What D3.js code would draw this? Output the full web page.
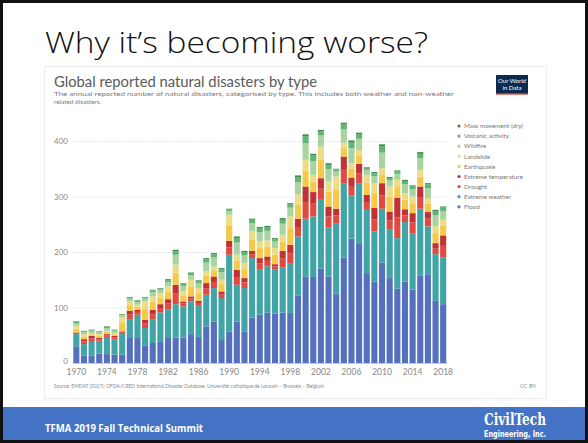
<!DOCTYPE html>
<html><head><meta charset="utf-8">
<script src="https://cdn.jsdelivr.net/npm/d3@7"></script>
<style>html,body{margin:0;padding:0;background:#fff;}svg{display:block;}</style>
</head><body>
<svg id="c" width="588" height="443"></svg>
<script>
const years = d3.range(1970, 2019);
const flood = [29,13,13,17,16,15,15,45,45,31,36,38,45,46,46,52,47,66,75,43,57,75,57,82,87,91,89,91,90,121,156,155,170,156,124,190,224,216,162,147,181,153,134,147,132,158,160,112,106];
const extremeWeather = [23,21,25,23,31,28,37,33,42,32,43,53,52,60,56,59,56,57,60,74,138,66,78,107,81,83,79,81,90,107,104,109,124,88,128,133,78,107,114,90,97,87,91,107,102,120,86,84,84];
const drought = [2,5,6,3,3,3,3,9,5,8,9,8,10,19,5,5,5,11,11,7,13,14,10,7,11,10,6,16,17,17,30,23,20,20,14,25,17,19,14,22,24,17,37,12,19,21,14,11,21];
const extremeTemperature = [1,4,5,2,2,3,2,7,4,7,8,7,8,16,4,4,4,10,10,5,12,13,8,6,10,8,4,14,16,15,28,21,19,18,12,24,15,17,13,21,22,16,36,11,17,19,12,9,19];
const earthquake = [7,5,3,4,4,3,15,10,5,20,14,12,14,22,11,18,14,13,11,13,28,16,16,21,18,17,17,17,30,26,29,19,34,27,35,15,16,15,22,26,16,27,19,17,18,18,15,18,17];
const landslide = [5,4,2,3,2,2,10,7,4,13,10,8,9,14,7,12,9,8,7,8,19,11,11,14,12,12,12,12,21,18,19,12,23,18,23,10,10,10,14,18,11,18,13,12,12,12,10,12,11];
const wildfire = [5,4,4,3,5,4,4,5,5,5,8,6,8,18,10,8,9,16,16,14,7,22,14,15,17,17,12,20,16,22,30,25,20,22,9,24,27,20,9,13,28,11,11,16,13,21,18,20,16];
const volcanic = [2,1,1,1,2,1,1,2,2,2,3,2,3,6,4,3,3,6,6,5,3,8,6,6,7,7,4,7,6,9,12,10,7,8,4,9,10,8,4,5,11,4,4,6,5,8,7,7,6];
const massMovement = [1,1,1,1,1,1,1,1,1,1,1,1,2,3,1,2,2,2,2,2,1,3,2,2,2,2,2,3,2,3,4,3,3,3,1,3,4,3,1,2,4,2,2,2,2,3,2,3,2];

const seriesNames = ["Flood","Extreme weather","Drought","Extreme temperature","Earthquake","Landslide","Wildfire","Volcanic activity","Mass movement (dry)"];
const seriesValues = [flood, extremeWeather, drought, extremeTemperature, earthquake, landslide, wildfire, volcanic, massMovement];
const seriesColors = ["#5571bd","#41a4a6","#e14a40","#c23234","#f5c94a","#ecdc86","#a8d49f","#5fb574","#3c8c4a"];
const yTicks = [0,100,200,300,400];
const xTickYears = [1970,1974,1978,1982,1986,1990,1994,1998,2002,2006,2010,2014,2018];

const svg = d3.select("#c");

svg.append("rect").attr("x",0).attr("y",0).attr("width",588).attr("height",443).attr("fill","#fff");
// title
svg.append("text").attr("x",45).attr("y",53).attr("font-family","'Open Sans', sans-serif").attr("font-weight",300)
  .attr("font-size",30).attr("fill","#111").attr("textLength",383).attr("lengthAdjust","spacingAndGlyphs")
  .text("Why it’s becoming worse?");

// embedded chart frame
svg.append("rect").attr("x",44.5).attr("y",66.5).attr("width",502).attr("height",332).attr("fill","#fff").attr("stroke","#ececec");

const g = svg.append("g");
g.append("text").attr("x",54).attr("y",87).attr("font-family","Lato, sans-serif").attr("font-size",14.5)
  .attr("fill","#5a5a5a").attr("textLength",263).attr("lengthAdjust","spacingAndGlyphs")
  .text("Global reported natural disasters by type");
g.append("text").attr("x",54).attr("y",96).attr("font-family","Lato, sans-serif").attr("font-size",6.4)
  .attr("fill","#7a7a7a").attr("textLength",400).attr("lengthAdjust","spacingAndGlyphs")
  .text("The annual reported number of natural disasters, categorised by type. This includes both weather and non-weather");
g.append("text").attr("x",54).attr("y",104).attr("font-family","Lato, sans-serif").attr("font-size",6.4)
  .attr("fill","#7a7a7a").text("related disasters.");

// OWID logo
g.append("rect").attr("x",496).attr("y",75).attr("width",32).attr("height",19).attr("fill","#0d2a4e");
g.append("rect").attr("x",496).attr("y",93).attr("width",32).attr("height",1.6).attr("fill","#d42b21");
g.append("text").attr("x",512).attr("y",83).attr("text-anchor","middle").attr("font-family","Lato, sans-serif")
  .attr("font-size",6).attr("fill","#fff").text("Our World");
g.append("text").attr("x",512).attr("y",90).attr("text-anchor","middle").attr("font-family","Lato, sans-serif")
  .attr("font-size",6).attr("fill","#fff").text("in Data");

const x = d3.scaleBand().domain(years).range([72.5,447]).paddingInner(0.2).paddingOuter(0.1);
const y = d3.scaleLinear().domain([0,400]).range([363,141]);

// gridlines + y labels
const yAxis = d3.axisLeft(y).tickValues(yTicks).tickSize(-(447-72)).tickFormat(d3.format("d")).tickPadding(4);
const ya = g.append("g").attr("transform","translate(72,0)").call(yAxis);
ya.select(".domain").remove();
ya.selectAll(".tick line").attr("stroke","#e8e8e8").attr("stroke-dasharray","2,1");
ya.selectAll(".tick text").attr("font-family","Lato, sans-serif").attr("font-size",8).attr("fill","#888").attr("x",-4)
  .attr("dy",d=>d===0?"0.1em":"0.32em");

// stacked bars
const table = years.map((yr,i)=>{const o={year:yr}; seriesNames.forEach((n,k)=>o[n]=seriesValues[k][i]); return o;});
const stack = d3.stack().keys(seriesNames)(table);
g.append("g").selectAll("g").data(stack).join("g").attr("fill",(d,i)=>seriesColors[i])
  .selectAll("rect").data(d=>d).join("rect")
  .attr("x",d=>x(d.data.year)).attr("width",x.bandwidth())
  .attr("y",d=>y(d[1])).attr("height",d=>Math.max(0,y(d[0])-y(d[1])));

// x axis
const xAxis = d3.axisBottom(x).tickValues(xTickYears).tickSize(0).tickPadding(6);
const xa = g.append("g").attr("transform","translate(0,363)").call(xAxis);
xa.select(".domain").attr("stroke","#ccc");
xa.selectAll(".tick text").attr("font-family","Lato, sans-serif").attr("font-size",8.5).attr("fill","#888");

// legend
const legendOrder = seriesNames.map((n,i)=>({name:n,color:seriesColors[i]})).reverse();
const lg = g.append("g").selectAll("g").data(legendOrder).join("g")
  .attr("transform",(d,i)=>`translate(459,${126+i*10.1})`);
lg.append("circle").attr("r",1.6).attr("fill",d=>d.color);
lg.append("text").attr("x",5).attr("y",2.2).attr("font-family","Lato, sans-serif").attr("font-size",6.3)
  .attr("fill","#777").text(d=>d.name);

// source
g.append("text").attr("x",54).attr("y",388).attr("font-family","Lato, sans-serif").attr("font-size",5.6)
  .attr("fill","#8a8a8a").attr("textLength",270).attr("lengthAdjust","spacingAndGlyphs")
  .text("Source: EMDAT (2017): OFDA/CRED International Disaster Database, Université catholique de Louvain – Brussels – Belgium");
g.append("text").attr("x",536).attr("y",388).attr("text-anchor","end").attr("font-family","Lato, sans-serif").attr("font-size",5.6)
  .attr("fill","#8a8a8a").text("CC BY");

// footer bar
svg.append("rect").attr("x",0).attr("y",407).attr("width",588).attr("height",34).attr("fill","#4472c4");
svg.append("text").attr("x",45).attr("y",432).attr("font-family","'Open Sans', sans-serif").attr("font-weight",700)
  .attr("font-size",10).attr("fill","#fff").attr("textLength",158).attr("lengthAdjust","spacingAndGlyphs")
  .text("TFMA 2019 Fall Technical Summit");
svg.append("text").attr("x",515).attr("y",425).attr("text-anchor","middle").attr("font-family","'DejaVu Serif', serif").attr("font-weight",700)
  .attr("font-size",16).attr("fill","#fff").attr("textLength",62).attr("lengthAdjust","spacingAndGlyphs")
  .text("CivilTech");
svg.append("text").attr("x",515).attr("y",437).attr("text-anchor","middle").attr("font-family","'DejaVu Sans Condensed','DejaVu Sans', sans-serif").attr("font-weight",700)
  .attr("font-size",9.5).attr("fill","#fff").attr("textLength",62).attr("lengthAdjust","spacingAndGlyphs")
  .text("Engineering, Inc.");

// black slide border
svg.append("rect").attr("x",1.5).attr("y",1.5).attr("width",585).attr("height",440).attr("fill","none").attr("stroke","#111").attr("stroke-width",3);
</script>
</body></html>
